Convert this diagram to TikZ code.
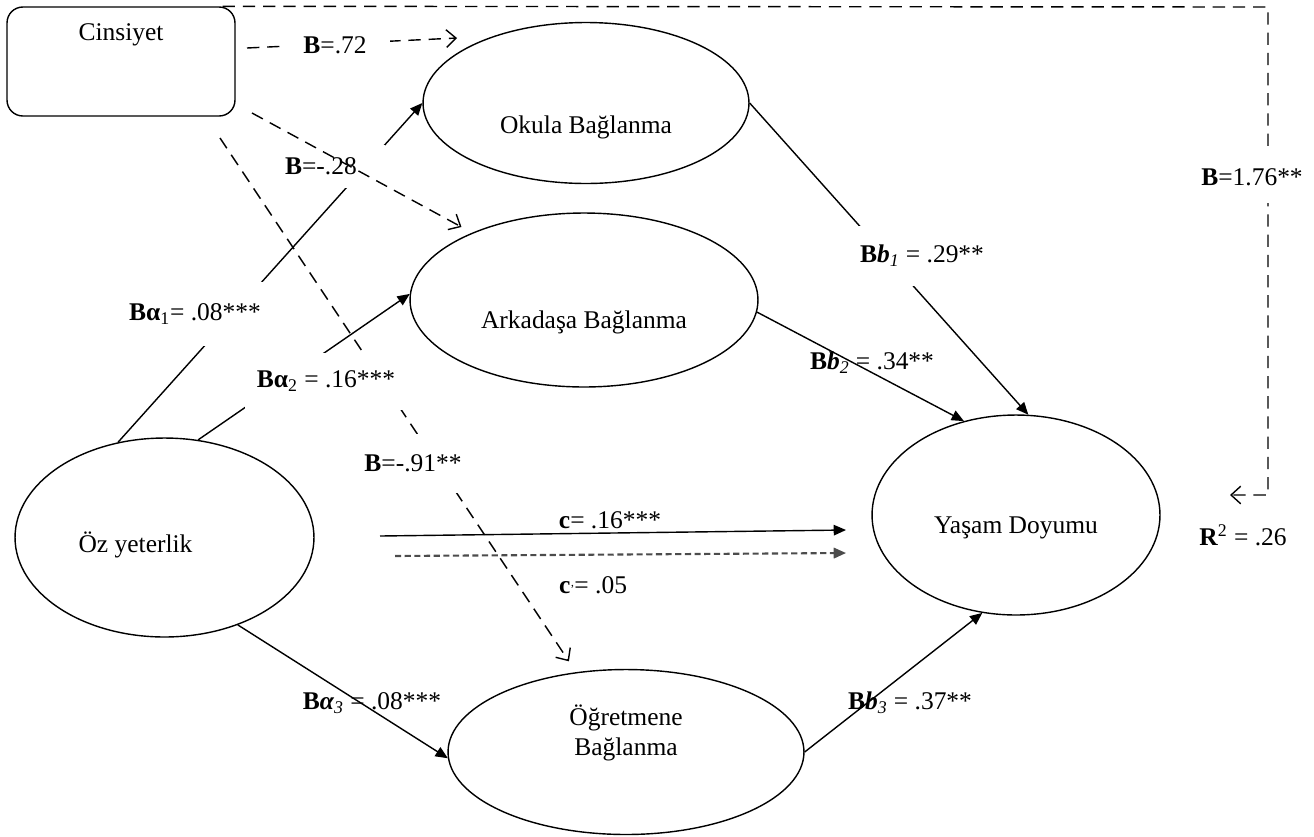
\documentclass[tikz,border=0pt]{standalone}
\usepackage{fontspec}
\setmainfont{Liberation Serif}
\usetikzlibrary{calc, positioning, arrows.meta, shapes}

\begin{document}
\begin{tikzpicture}
			[x=0.02cm, y=-0.02cm,
			font=\fontsize{14.5}{17}\selectfont,
			latent/.style={ellipse, draw, line width=0.8pt, inner sep=0pt},
			effect/.style={-{Triangle[length=7pt,width=6pt]}, line width=0.8pt},
			ctrl/.style={-{Straight Barb[length=5.5pt,width=10pt]}, dash pattern=on 7pt off 4.5pt, line width=0.8pt},
			cdash/.style={dash pattern=on 3.5pt off 2pt, line width=1.2pt, draw=black!70},
			coef/.style={inner sep=1pt},
			gapcoef/.style={fill=white, inner sep=1pt}]
			\useasboundingbox (0,0) rectangle (1314,836);

			% nodes %
			\node[draw, rectangle, rounded corners=9pt, line width=0.8pt, inner sep=0pt, minimum width=4.56cm, text height=0.66cm, text depth=1.52cm] (cins) at (121,61.5) {Cinsiyet};
			\node[latent, minimum width=6.52cm, minimum height=3.22cm, text height=1.2cm, text depth=0pt] (okula) at (586,103) {Okula Bağlanma};
			\node[latent, minimum width=6.96cm, minimum height=3.48cm, text height=1.12cm, text depth=0pt] (arkadasa) at (584,300) {Arkadaşa Bağlanma};
			\node[latent, minimum width=5.98cm, minimum height=3.98cm, text height=0.6cm, text depth=0pt] (oz) at (164.5,537.5) {Öz yeterlik\hspace*{1.16cm}};
			\node[latent, minimum width=7.12cm, minimum height=3.3cm, align=center, text height=0.6cm, text depth=0.48cm] (ogretmene) at (626,752) {Öğretmene\\Bağlanma};
			\node[latent, minimum width=5.76cm, minimum height=4.0cm, text height=0.72cm, text depth=0pt] (yasam) at (1016,515) {Yaşam Doyumu};

			\coordinate (cs) at (380,536);
			\coordinate (ce) at (846,530);
			\coordinate (cps) at (395,556);
			\coordinate (cpe) at (846,553);
			\coordinate (d1s) at (247,48);
			\coordinate (d1e) at (457,38);
			\coordinate (d2s) at (252,113);
			\coordinate (d3s) at (220,138);
			\coordinate (rtop) at (1268,7);
			\coordinate (rbot) at (1268,495);
			\coordinate (rtip) at (1230,495);

			% edges %
			\draw[effect] (oz.116) -- (okula.west);
			\draw[effect] (oz.71) -- (arkadasa.178);
			\draw[effect] (oz.-50) -- (ogretmene.182);
			\draw[effect] (okula.east) -- (yasam.83);
			\draw[effect] (arkadasa.-4) -- (yasam.119);
			\draw[effect] (ogretmene.east) -- (yasam.251);
			\draw[effect] (cs) -- (ce);
			\draw[effect, cdash] (cps) -- (cpe);
			\draw[ctrl] (d1s) -- (d1e);
			\draw[ctrl, shorten >=0.26cm] (d3s) -- (ogretmene.122);
			\draw[ctrl] ($(cins.north east)+(-13,0)$) -- (rtop) -- (rbot) -- (rtip);

			% labels %
			\node[gapcoef, minimum width=2.8cm, minimum height=1.28cm] (la1) at (195,314) {\textbf{Bα}\textsubscript{1}= .08***};
			\node[gapcoef, minimum width=3.24cm, minimum height=1.14cm] (la2) at (326,381) {\textbf{Bα}\textsubscript{2} = .16***};
			\node[coef] (la3) at (372,703) {\textbf{B\textit{α}}\textsubscript{\textit{3}} = .08***};
			\node[gapcoef, minimum width=2.62cm, minimum height=1.2cm] (lb1) at (922,256) {\textbf{B\textit{b}}\textsubscript{\textit{1}} = .29**};
			\node[coef] (lb2) at (872,363) {\textbf{B\textit{b}}\textsubscript{\textit{2}} = .34**};
			\node[coef] (lb3) at (910,703) {\textbf{B\textit{b}}\textsubscript{\textit{3}} = .37**};
			\node[coef] (lc) at (610,520) {\textbf{c}= .16***};
			\node[coef] (lcp) at (593,585) {\textbf{c}{\scriptsize’}= .05};
			\node[gapcoef, minimum width=2.2cm, minimum height=0.5cm] (l72) at (335,45) {\textbf{B}=.72};
			\node[gapcoef, anchor=west, text width=1.96cm, minimum height=0.86cm] (l28) at (283,166) {\textbf{B}=-.28};
			\node[gapcoef, minimum width=2.1cm, minimum height=1.18cm] (l91) at (413,463) {\textbf{B}=-.91**};
			\node[gapcoef, minimum width=2.1cm, minimum height=1.04cm] (l176) at (1252,177) {\textbf{B}=1.76**};
			\node[coef] (lr2) at (1243,535) {\textbf{R}\textsuperscript{2} = .26};

			\draw[ctrl, shorten >=0.24cm] (d2s) -- (arkadasa.149);
\end{tikzpicture}
\end{document}
